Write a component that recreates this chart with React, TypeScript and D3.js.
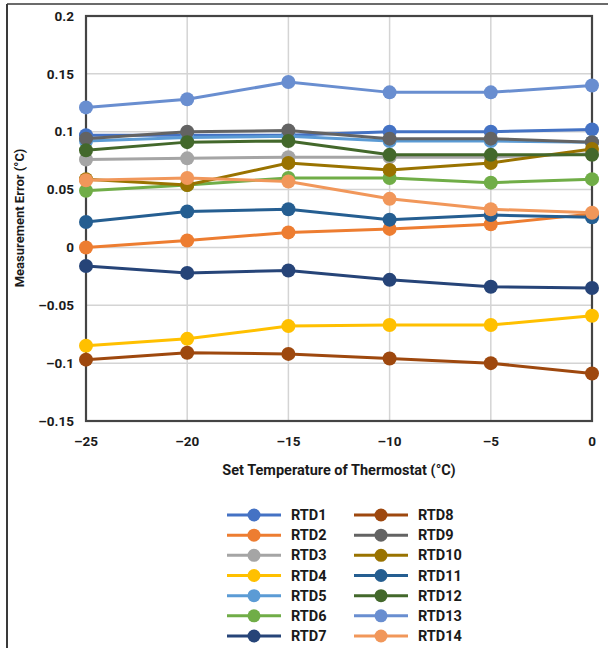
import React from "react";
import { scaleLinear, line } from "d3";

const temps = [-25, -20, -15, -10, -5, 0];
const yTicks = [0.2, 0.15, 0.1, 0.05, 0, -0.05, -0.1, -0.15];

const names = ["RTD1", "RTD2", "RTD3", "RTD4", "RTD5", "RTD6", "RTD7", "RTD8", "RTD9", "RTD10", "RTD11", "RTD12", "RTD13", "RTD14"];
const colors = ["#4472C4", "#ED7D31", "#A5A5A5", "#FFC000", "#5B9BD5", "#70AD47", "#264478", "#9E480E", "#636363", "#997300", "#255E91", "#43682B", "#698ED0", "#F1975A"];

const rtd1 = [0.097, 0.097, 0.097, 0.1, 0.1, 0.102];
const rtd2 = [0.0, 0.006, 0.013, 0.016, 0.02, 0.029];
const rtd3 = [0.076, 0.077, 0.078, 0.078, 0.078, 0.081];
const rtd4 = [-0.085, -0.079, -0.068, -0.067, -0.067, -0.059];
const rtd5 = [0.092, 0.095, 0.096, 0.092, 0.092, 0.091];
const rtd6 = [0.049, 0.054, 0.06, 0.06, 0.056, 0.059];
const rtd7 = [-0.016, -0.022, -0.02, -0.028, -0.034, -0.035];
const rtd8 = [-0.097, -0.091, -0.092, -0.096, -0.1, -0.109];
const rtd9 = [0.094, 0.1, 0.101, 0.094, 0.094, 0.091];
const rtd10 = [0.059, 0.054, 0.073, 0.067, 0.073, 0.085];
const rtd11 = [0.022, 0.031, 0.033, 0.024, 0.028, 0.026];
const rtd12 = [0.084, 0.091, 0.092, 0.08, 0.08, 0.08];
const rtd13 = [0.121, 0.128, 0.143, 0.134, 0.134, 0.14];
const rtd14 = [0.058, 0.06, 0.057, 0.042, 0.033, 0.03];

const series = [rtd1, rtd2, rtd3, rtd4, rtd5, rtd6, rtd7, rtd8, rtd9, rtd10, rtd11, rtd12, rtd13, rtd14];

const font = "Roboto, 'Open Sans', sans-serif";

const App = () => {
  const width = 608;
  const height = 648;
  const plot = { left: 86, right: 592, top: 16, bottom: 421 };

  const xScale = scaleLinear().domain([-25, 0]).range([plot.left, plot.right]);
  const yScale = scaleLinear().domain([-0.15, 0.2]).range([plot.bottom, plot.top]);

  const path = line<number>()
    .x((d, i) => xScale(temps[i]))
    .y(d => yScale(d));

  const fmt = (v: number) => (v < 0 ? "\u2013" + String(Math.abs(v)) : String(v));

  // legend: 7 rows, two columns
  const legendRow = scaleLinear().domain([0, 6]).range([515, 636]);
  const legendCols = [227, 354];

  return (
    <svg width={width} height={height} style={{ position: "fixed", left: 0, top: 0, background: "#fff" }}>
      {/* outer frame */}
      <line x1={7} x2={608} y1={4} y2={4} stroke="#3a3a3a" strokeWidth={1.5} />
      <line x1={7} x2={7} y1={4} y2={648} stroke="#3a3a3a" strokeWidth={2} />

      {/* grid */}
      {yTicks.map(t => (
        <line key={"gy" + t} x1={plot.left} x2={plot.right} y1={yScale(t)} y2={yScale(t)} stroke="#d4d4d4" strokeWidth={1.5} />
      ))}
      {temps.map(t => (
        <line key={"gx" + t} x1={xScale(t)} x2={xScale(t)} y1={plot.top} y2={plot.bottom} stroke="#d4d4d4" strokeWidth={1.5} />
      ))}
      <rect x={plot.left} y={plot.top} width={plot.right - plot.left} height={plot.bottom - plot.top} fill="none" stroke="#444" strokeWidth={2.2} />

      {/* tick labels */}
      {yTicks.map(t => (
        <text key={"ty" + t} x={74} y={yScale(t)} dy="0.35em" textAnchor="end" fontFamily={font} fontWeight={700} fontSize={13.5} fill="#1a1a1a">
          {fmt(t)}
        </text>
      ))}
      {temps.map(t => (
        <text key={"tx" + t} x={xScale(t)} y={441} dy="0.35em" textAnchor="middle" fontFamily={font} fontWeight={700} fontSize={13.5} fill="#1a1a1a">
          {fmt(t)}
        </text>
      ))}

      {/* axis titles */}
      <text x={339} y={475} textAnchor="middle" fontFamily={font} fontWeight={700} fontSize={14.5} fill="#1a1a1a">
        Set Temperature of Thermostat (°C)
      </text>
      <text transform="translate(24,218) rotate(-90)" textAnchor="middle" fontFamily={font} fontWeight={700} fontSize={13} fill="#1a1a1a">
        Measurement Error (°C)
      </text>

      {/* series */}
      {series.map((s, k) => (
        <g key={names[k]}>
          <path d={path(s) || ""} fill="none" stroke={colors[k]} strokeWidth={3} />
          {s.map((v, i) => (
            <circle key={i} cx={xScale(temps[i])} cy={yScale(v)} r={7} fill={colors[k]} />
          ))}
        </g>
      ))}

      {/* legend */}
      {names.map((n, k) => {
        const col = k < 7 ? 0 : 1;
        const row = k % 7;
        const x0 = legendCols[col];
        const y0 = legendRow(row);
        return (
          <g key={"lg" + n}>
            <line x1={x0} x2={x0 + 54} y1={y0} y2={y0} stroke={colors[k]} strokeWidth={3} />
            <circle cx={x0 + 27} cy={y0} r={6.5} fill={colors[k]} />
            <text x={x0 + 64} y={y0} dy="0.35em" fontFamily={font} fontWeight={700} fontSize={14.5} fill="#1a1a1a">
              {n}
            </text>
          </g>
        );
      })}
    </svg>
  );
};

export default App;
